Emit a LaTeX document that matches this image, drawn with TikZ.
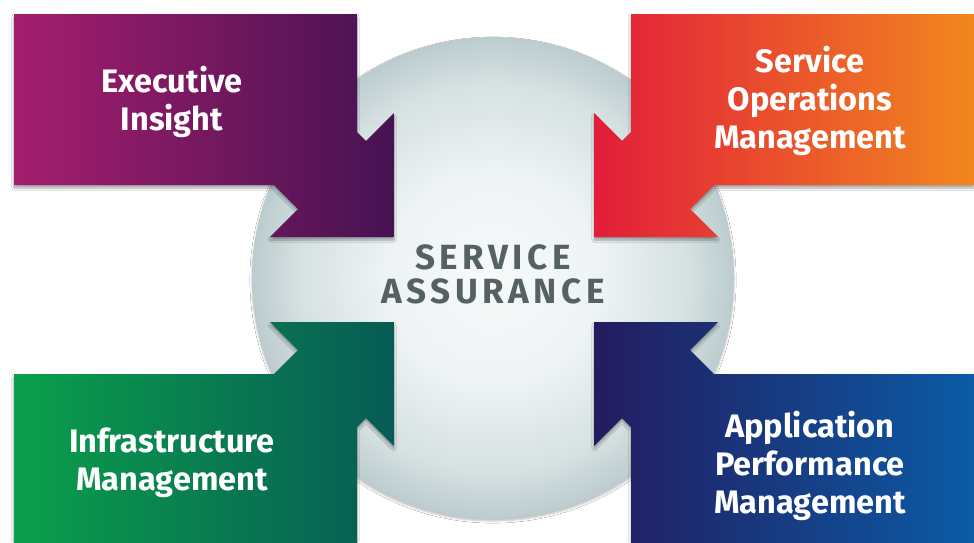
\documentclass[tikz,border=0pt]{standalone}
\usepackage{fontspec}
\setmainfont{Fira Sans}
\newfontfamily\hubfont[LetterSpace=13]{Fira Sans}
\usepackage{tikz}
\usetikzlibrary{shadows.blur}

\definecolor{execA}{HTML}{A51E6E}
\definecolor{execB}{HTML}{461252}
\definecolor{opsA}{HTML}{E21D3A}
\definecolor{opsB}{HTML}{F2871F}
\definecolor{infraA}{HTML}{0A9F4B}
\definecolor{infraB}{HTML}{075B55}
\definecolor{apmA}{HTML}{231C5F}
\definecolor{apmB}{HTML}{0B5BA5}
\definecolor{hubgrey}{HTML}{566165}
\definecolor{hubA}{HTML}{F8FAFA}
\definecolor{hubB}{HTML}{EEF3F3}
\definecolor{hubC}{HTML}{D6E1E2}
\definecolor{hubD}{HTML}{BCCCCE}

\pgfdeclareradialshading{hub}{\pgfpointorigin}{color(0bp)=(hubA); color(11bp)=(hubB); color(20bp)=(hubC); color(25bp)=(hubD); color(50bp)=(hubD)}

\def\width{974}
\def\hauteur{542}
% one flap, drawn top left; the others are mirror images of it
\def\flap{(14,14) -- (357,14) -- (357,132) -- (366,141) -- (394,113) -- (394,237) -- (270,237) -- (298,209) -- (274,185) -- (14,185) -- cycle}

\tikzset{
	flapshade/.style={blur shadow={shadow xshift=0pt, shadow yshift=-3pt, shadow opacity=35, shadow blur steps=8}},
	flaptext/.style={text=white, font=\fontsize{32.5}{38}\selectfont\bfseries, align=center, inner sep=0pt},
	hubtext/.style={text=hubgrey, font=\fontsize{35}{34}\hubfont\bfseries, align=center, inner sep=0pt}
}

\begin{document}
\begin{tikzpicture}[x=1pt, y=-1pt]
	\useasboundingbox (0,0) rectangle (\width,\hauteur);
	\fill[white] (0,0) rectangle (\width,\hauteur);
	\clip (0,0) rectangle (\width,\hauteur);

	% the hub
	\shade[shading=hub, blur shadow={shadow xshift=0pt, shadow yshift=-2pt, shadow opacity=25}] (493,278) circle (241pt);

	% the four flaps
	\shade[flapshade, left color=execA, right color=execB] \flap;
	\begin{scope}[shift={(988,0)}, xscale=-1]
		\shade[flapshade, left color=opsA, right color=opsB] \flap;
	\end{scope}
	\begin{scope}[shift={(0,559)}, yscale=-1]
		\shade[flapshade, left color=infraA, right color=infraB] \flap;
	\end{scope}
	\begin{scope}[shift={(988,559)}, scale=-1]
		\shade[flapshade, left color=apmA, right color=apmB] \flap;
	\end{scope}

	\node[flaptext] (exec) at (172,102) {Executive\\Insight};
	\node[flaptext] (ops) at (810,101) {Service\\Operations\\Management};
	\node[flaptext] (infra) at (172,463) {Infrastructure\\Management};
	\node[flaptext] (apm) at (810,466) {Application\\Performance\\Management};
	\node[hubtext] (hub) at (493,274) {SERVICE\\ASSURANCE};
\end{tikzpicture}
\end{document}
